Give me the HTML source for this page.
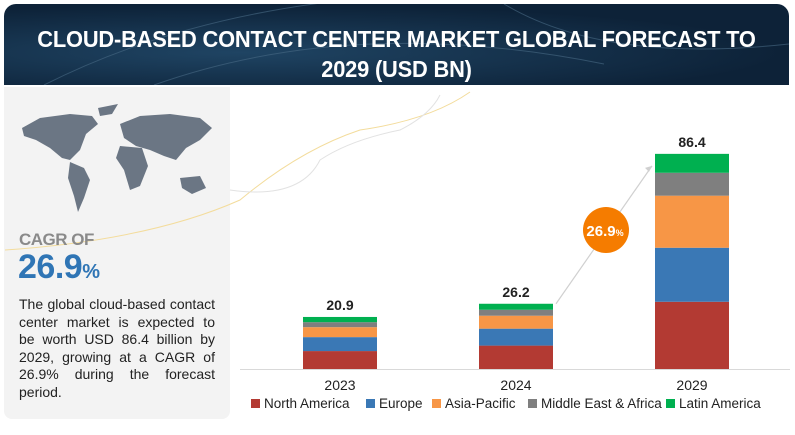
<!DOCTYPE html>
<html><head><meta charset="utf-8"><style>
body{margin:0;width:795px;height:435px;background:#fff;font-family:"Liberation Sans",sans-serif;overflow:hidden;position:relative}
#hdr{position:absolute;left:4px;top:4px;width:785px;height:81px;border-radius:12px 12px 0 0;background:radial-gradient(ellipse at 30% 60%,#1f4463,#0d2238 70%);overflow:hidden}
#hdr h1{position:absolute;left:-40px;right:-40px;top:20px;margin:0;text-align:center;color:#fff;font-size:23px;font-weight:bold;line-height:30px;letter-spacing:-0.2px;transform:scaleX(0.95)}
#left{position:absolute;left:4px;top:87px;width:226px;height:332px;background:#f3f3f3;border-radius:0 0 8px 8px}
#cagrof{position:absolute;left:19px;top:230px;font-size:17px;color:#8a8a8a;font-weight:bold;letter-spacing:-0.5px}
#cagr{position:absolute;left:18px;top:248px;font-size:34px;color:#2f75b5;font-weight:bold;letter-spacing:-0.5px}
#cagr span{font-size:20px}
#desc{position:absolute;left:19px;top:296px;width:196px;font-size:14px;line-height:17.6px;color:#222}
#desc div{text-align:justify;text-align-last:justify;white-space:nowrap}
#desc div.last{text-align-last:left}
</style></head><body>
<div id="hdr">
<svg width="785" height="81" style="position:absolute;left:0;top:0">
<path d="M40 81 Q200 0 420 -10" stroke="#4a6a86" stroke-width="1" fill="none" opacity=".6"/>
<path d="M150 81 Q350 10 600 60" stroke="#4a6a86" stroke-width="1" fill="none" opacity=".6"/>
<path d="M500 0 Q600 60 785 40" stroke="#4a6a86" stroke-width="1" fill="none" opacity=".6"/>
</svg>
<h1>CLOUD-BASED CONTACT CENTER MARKET GLOBAL FORECAST TO<br>2029 (USD BN)</h1></div>
<div id="left"></div>
<svg width="795" height="435" style="position:absolute;left:0;top:0">
<g fill="#6b7684">
<path d="M22 128 L40 118 L70 114 L92 116 L98 124 L86 134 L80 150 L70 160 L62 158 L50 148 L36 140 L24 136Z"/>
<path d="M70 162 L84 168 L90 180 L84 198 L78 212 L74 196 L68 178Z"/>
<path d="M98 108 L118 104 L112 114 L100 116Z"/>
<path d="M120 124 L140 116 L170 114 L200 118 L212 128 L200 140 L186 148 L176 160 L164 156 L150 150 L136 146 L124 138Z"/>
<path d="M120 146 L142 148 L148 166 L140 186 L130 190 L124 170 L116 158Z"/>
<path d="M180 178 L200 176 L206 188 L192 194 L182 188Z"/>
</g>
<path d="M5 250 Q150 240 240 200 Q300 150 360 130 Q430 120 470 92" stroke="#f3dc9c" fill="none" stroke-width="1"/>
<path d="M230 190 Q300 200 320 160 Q350 140 400 130 Q430 115 440 95" stroke="#e2e2e2" fill="none" stroke-width="1"/>
</svg>
<div id="cagrof">CAGR OF</div>
<div id="cagr">26.9<span>%</span></div>
<div id="desc"><div>The global cloud-based contact</div><div>center market is expected to</div><div>be worth USD 86.4 billion by</div><div>2029, growing at a CAGR of</div><div>26.9% during the forecast</div><div class="last">period.</div></div>
<svg id="chart" width="795" height="435" style="position:absolute;left:0;top:0"></svg>
<script>
const categories=["2023","2024","2029"];
const seriesNames=["North America","Europe","Asia-Pacific","Middle East & Africa","Latin America"];
const northAmerica=[7.2,9.4,27.0];
const europe=[5.6,6.8,21.7];
const asiaPacific=[4.0,5.2,20.9];
const mea=[2.0,2.4,9.2];
const latam=[2.1,2.4,7.6];
const totals=["20.9","26.2","86.4"];
const colors=["#b33a33","#3a78b5","#f79646","#7f7f7f","#00b050"];
const series=[northAmerica,europe,asiaPacific,mea,latam];
const NS="http://www.w3.org/2000/svg";
const svg=document.getElementById('chart');
const base=369,scale=2.49,barW=74;
function x(i){return 303+i*176;}
function y(v){return base-v*scale;}
function mk(t,a){const e=document.createElementNS(NS,t);for(const k in a)e.setAttribute(k,a[k]);svg.appendChild(e);return e;}
const ax=mk('line',{x1:240,x2:790,y1:base+0.5,y2:base+0.5,stroke:'#d9d9d9'});


categories.forEach((c,i)=>{
 let cum=0;
 series.forEach((s,j)=>{
  const r=mk('rect',{x:x(i),y:y(cum+s[i]),width:barW,height:s[i]*scale,fill:colors[j]});
  
  
  cum+=s[i];
 });
 const t=mk('text',{x:x(i)+barW/2,y:y(cum)-7,'text-anchor':'middle','font-size':14,'font-weight':'bold',fill:'#222','font-family':'Liberation Sans'});
 t.textContent=totals[i];
 
 
 const l=mk('text',{x:x(i)+barW/2,y:390,'text-anchor':'middle','font-size':14,fill:'#222','font-family':'Liberation Sans'});
 l.textContent=c;
 
 
});
let cum1=0,cum2=0;series.forEach(s=>{cum1+=s[1];cum2+=s[2];});
const arr=mk('line',{x1:x(1)+barW+3,y1:y(cum1),x2:x(2)-3,y2:y(cum2)+12,stroke:'#d0d0d0','stroke-width':1.2});


const ah=mk('path',{d:`M${x(2)-3} ${y(cum2)+12} l-7 2 l4 4z`,fill:'#d0d0d0'});


const cc=mk('circle',{cx:606,cy:230,r:23,fill:'#f57c00'});


const ct=mk('text',{x:605,y:236,'text-anchor':'middle','font-size':15,'font-weight':'bold',fill:'#fff','font-family':'Liberation Sans'});
ct.innerHTML='26.9<tspan font-size="9">%</tspan>';


const lx=[251,366,432,528,666];
seriesNames.forEach((n,j)=>{
 const r=mk('rect',{x:lx[j],y:399,width:9,height:9,fill:colors[j]});
 
 
 const t=mk('text',{x:lx[j]+13,y:408,'font-size':13.5,fill:'#222','font-family':'Liberation Sans'});
 t.textContent=n;
 
 
});
</script>
</body></html>
